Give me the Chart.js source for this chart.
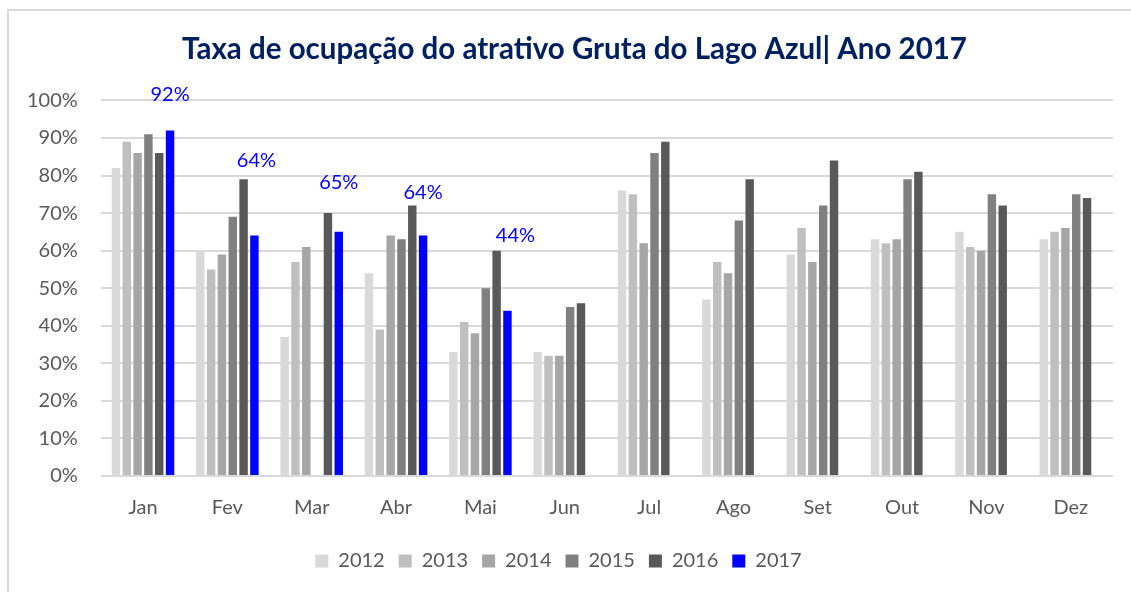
<!DOCTYPE html>
<html>
<head>
<meta charset="utf-8">
<script src="https://cdn.jsdelivr.net/npm/chart.js@4"></script>
<style>
  html, body { margin: 0; padding: 0; background: #fff; }
  #wrap { position: relative; width: 1131px; height: 592px; overflow: hidden; }
  #frame { position: absolute; left: 7px; top: 9px; width: 1200px; height: 700px;
           border-left: 2px solid #d9d9d9; border-top: 2px solid #d9d9d9; }
  #cut { position: absolute; left: 51px; top: -22px; font: bold 19px Lato, sans-serif; color: #000; white-space: nowrap; }
  #c { position: absolute; left: 0; top: 0; }
</style>
</head>
<body>
<div id="wrap">
  <div id="frame"></div>
  <div id="cut">Ocupação mensal do Lago Azul</div>
  <canvas id="c" width="1131" height="592"></canvas>
</div>
<script>
const months = ['Jan', 'Fev', 'Mar', 'Abr', 'Mai', 'Jun', 'Jul', 'Ago', 'Set', 'Out', 'Nov', 'Dez'];
const years = ['2012', '2013', '2014', '2015', '2016', '2017'];

const v2012 = [82, 60, 37, 54, 33, 33, 76, 47, 59, 63, 65, 63];
const v2013 = [89, 55, 57, 39, 41, 32, 75, 57, 66, 62, 61, 65];
const v2014 = [86, 59, 61, 64, 38, 32, 62, 54, 57, 63, 60, 66];
const v2015 = [91, 69, null, 63, 50, 45, 86, 68, 72, 79, 75, 75];
const v2016 = [86, 79, 70, 72, 60, 46, 89, 79, 84, 81, 72, 74];
const v2017 = [92, 64, 65, 64, 44, null, null, null, null, null, null, null];

const yTicks = [0, 10, 20, 30, 40, 50, 60, 70, 80, 90, 100];

const colors = ['#d9d9d9', '#bfbfbf', '#a6a6a6', '#808080', '#595959', '#0000ff'];
const series = [v2012, v2013, v2014, v2015, v2016, v2017];

const FONT = 'Lato, "Open Sans", sans-serif';

// labels above the 2017 bars, lifted by hand like in the spreadsheet
const labels2017 = {
  id: 'labels2017',
  afterDatasetsDraw(chart, args, opts) {
    const meta = chart.getDatasetMeta(5);
    const ctx = chart.ctx;
    ctx.save();
    ctx.fillStyle = '#0000ff';
    ctx.font = '20px ' + FONT;
    ctx.textAlign = 'center';
    ctx.textBaseline = 'middle';
    meta.data.forEach((bar, i) => {
      const v = v2017[i];
      if (v == null) return;
      const lift = opts.lift[i] || 30;
      const dx = opts.dx[i] || 0;
      ctx.fillText(v + '%', bar.x + dx, bar.y - lift);
    });
    ctx.restore();
  }
};

// the excel title sits a bit right of the canvas centre
const titleShift = {
  id: 'titleShift',
  afterLayout(chart, args, opts) {
    const t = chart.titleBlock;
    if (t) { t.left += opts.dx; t.right += opts.dx; }
  }
};

const data = {
  labels: months,
  datasets: years.map((y, i) => ({
    label: y,
    data: series[i],
    backgroundColor: colors[i],
    borderWidth: 0,
    barPercentage: 0.78,
    categoryPercentage: 0.77
  }))
};

const config = {
  type: 'bar',
  data: data,
  options: {
    responsive: false,
    animation: false,
    layout: { padding: { left: 4, right: 18, top: 20, bottom: 11 } },
    plugins: {
      title: {
        display: true,
        text: 'Taxa de ocupação do atrativo Gruta do Lago Azul| Ano 2017',
        color: '#002060',
        font: { family: FONT, size: 29.5, weight: 'bold' },
        padding: { top: 12, bottom: 33 }
      },
      legend: {
        position: 'bottom',
        labels: {
          color: '#595959',
          font: { family: FONT, size: 20 },
          boxWidth: 13,
          boxHeight: 13,
          padding: 14
        }
      },
      tooltip: { enabled: false },
      labels2017: { lift: [36, 75, 49, 43, 75], dx: [0, 2, 0, 0, 8] },
      titleShift: { dx: 16 }
    },
    scales: {
      x: {
        grid: { display: false },
        border: { display: false },
        ticks: { color: '#595959', font: { family: FONT, size: 20 }, padding: 12 },
        afterFit(scale) { scale.height += 5; }
      },
      y: {
        min: 0,
        max: 100,
        afterBuildTicks(scale) { scale.ticks = yTicks.map(v => ({ value: v })); },
        grid: { color: '#d9d9d9', lineWidth: 2, drawTicks: false },
        border: { display: false },
        ticks: {
          color: '#595959',
          font: { family: FONT, size: 20 },
          padding: 23,
          callback: v => v + '%'
        }
      }
    }
  },
  plugins: [labels2017, titleShift]
};

var chart = new Chart(document.getElementById('c'), config);
</script>
</body>
</html>
